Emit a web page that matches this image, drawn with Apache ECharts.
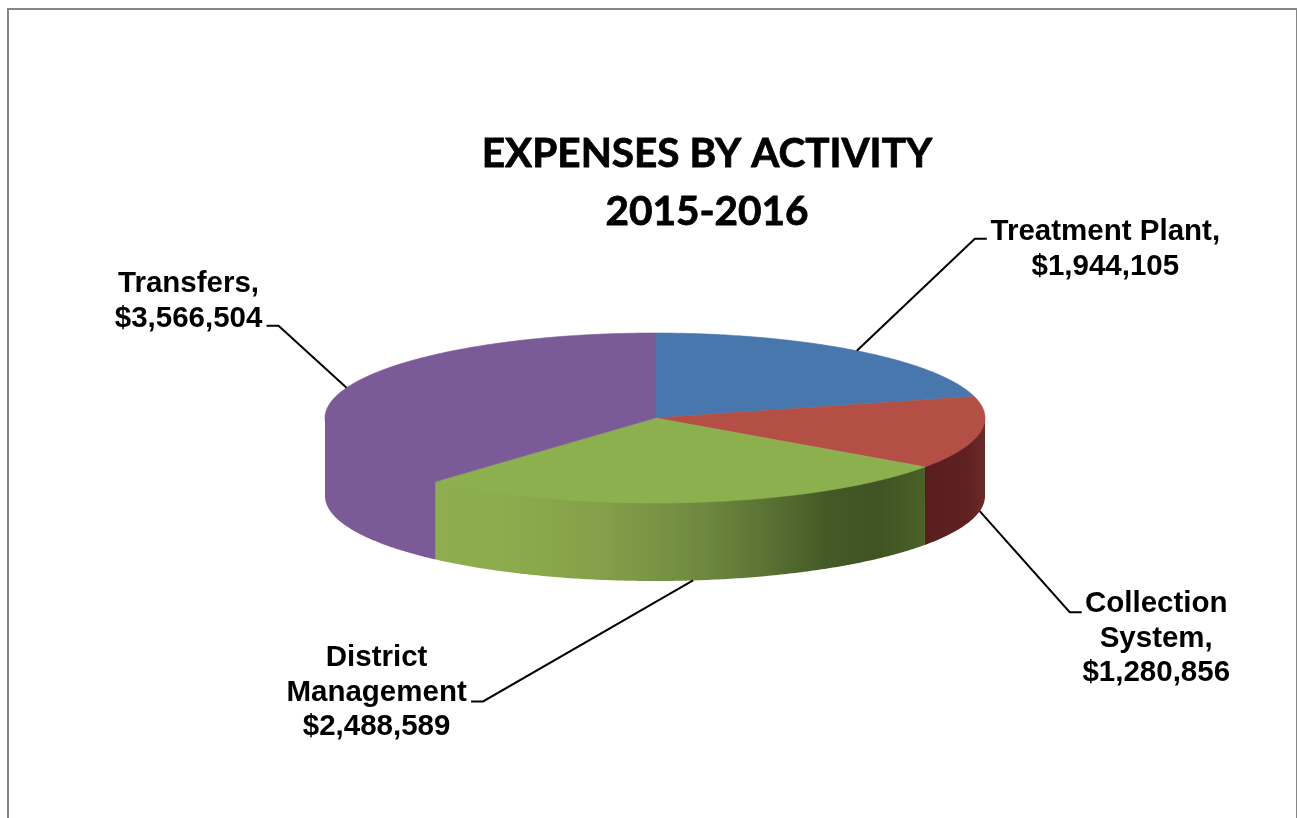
<!DOCTYPE html>
<html>
<head>
<meta charset="utf-8">
<title>Expenses by Activity 2015-2016</title>
<style>
  html, body { margin: 0; padding: 0; background: #fff; overflow: hidden; }
  #chart { width: 1297px; height: 818px; }
</style>
<script src="https://cdn.jsdelivr.net/npm/echarts@6/dist/echarts.min.js"></script>
</head>
<body>
<div id="chart"></div>
<script>
// Expense figures by activity, clockwise from twelve o'clock
const categories = ['Treatment Plant', 'Collection System', 'District Management', 'Transfers'];
const values = [1944105, 1280856, 2488589, 3566504];
const labelNames = ['Treatment Plant,', 'Collection\nSystem,', 'District\nManagement', 'Transfers,'];
const topColors = ['#4877ae', '#b44f45', '#8db04f', '#7b5b97'];

// Pie geometry: a tilted disc with an extruded rim
const disc = { cx: 655, cy: 418, rx: 330, ry: 85, depth: 78 };

// Rim fills, from left to right across each slice's visible wall
const rimStops = [
  null,
  [[0, '#5a1d1e'], [0.7, '#5f2021'], [1, '#6b2b27']],
  [[0, '#8dae4e'], [0.13, '#8dac4d'], [0.335, '#84a04a'], [0.54, '#6f8a40'], [0.66, '#5d7535'],
   [0.8, '#435a26'], [0.9, '#3f5323'], [1, '#4a6128']],
  [[0, '#7b5b97'], [1, '#7b5b97']]
];

// Leader line routing per slice: elbow and tail offsets from the anchor on the disc
const leaders = [
  { elbow: [118, -112], tail: [130, -112], onRim: false },
  { elbow: [90, 101], tail: [102, 101], onRim: true },
  { elbow: [-210, 121], tail: [-222, 121], onRim: true },
  { elbow: [-68, -62], tail: [-80, -62], onRim: false }
];

// Label box centres, relative to the tail of the leader line
const labelOffsets = [
  [118.5, 10.5], [74.5, 26.5], [-94.5, -9], [-78, -24.5]
];

const total = values.reduce((a, b) => a + b, 0);

function point(angle, drop) {
  return [
    disc.cx + disc.rx * Math.sin(angle),
    disc.cy - disc.ry * Math.cos(angle) + (drop || 0)
  ];
}

function arc(a0, a1, drop) {
  const steps = Math.max(2, Math.ceil(Math.abs(a1 - a0) / 0.01));
  const pts = [];
  for (let i = 0; i <= steps; i++) {
    pts.push(point(a0 + (a1 - a0) * i / steps, drop));
  }
  return pts;
}

function sliceSpan(index) {
  let before = 0;
  for (let i = 0; i < index; i++) before += values[i];
  const start = before / total * Math.PI * 2;
  return [start, start + values[index] / total * Math.PI * 2];
}

function money(v) {
  return '$' + v.toLocaleString('en-US');
}

// Walls are drawn first and tucked slightly under the top faces so no seam shows
function renderWall(params) {
  const i = params.dataIndex;
  const [start, end] = sliceSpan(i);
  const wallStart = Math.max(start, Math.PI / 2);
  const wallEnd = Math.min(end, Math.PI * 1.5);
  if (wallEnd <= wallStart || !rimStops[i]) {
    return null;
  }
  const stops = rimStops[i].map(s => ({ offset: s[0], color: s[1] }));
  return {
    type: 'polygon',
    shape: { points: arc(wallStart, wallEnd, -3).concat(arc(wallEnd, wallStart, disc.depth)) },
    style: { fill: new echarts.graphic.LinearGradient(0, 0, 1, 0, stops) }
  };
}

function renderFace(params, api) {
  const i = params.dataIndex;
  const value = api.value(1);
  const [start, end] = sliceSpan(i);
  const children = [];

  // Top face
  children.push({
    type: 'polygon',
    shape: { points: [[disc.cx, disc.cy]].concat(arc(start, end, 0)) },
    style: { fill: topColors[i], stroke: topColors[i], lineWidth: 0.6 }
  });

  // Leader line anchored at the slice's mid angle
  const mid = (start + end) / 2;
  const route = leaders[i];
  const anchor = point(mid, route.onRim ? disc.depth : 0);
  const elbow = [anchor[0] + route.elbow[0], anchor[1] + route.elbow[1]];
  const tail = [anchor[0] + route.tail[0], anchor[1] + route.tail[1]];
  children.push({
    type: 'polyline',
    shape: { points: [anchor, elbow, tail] },
    style: { stroke: '#000', lineWidth: 2, fill: null }
  });

  // Data label
  children.push({
    type: 'text',
    style: {
      x: tail[0] + labelOffsets[i][0],
      y: tail[1] + labelOffsets[i][1],
      text: labelNames[i] + '\n' + money(value),
      font: 'bold 29.5px "Liberation Sans", Arial, sans-serif',
      lineHeight: 34.5,
      fill: '#000',
      align: 'center',
      verticalAlign: 'middle'
    }
  });

  return { type: 'group', children };
}

const sliceData = categories.map((name, i) => [i, values[i], name]);

const chart = echarts.init(document.getElementById('chart'), null, { renderer: 'canvas' });
chart.setOption({
  animation: false,
  backgroundColor: '#ffffff',
  title: {
    text: 'EXPENSES BY ACTIVITY\n2015-2016',
    left: 702,
    top: 120,
    textAlign: 'center',
    textStyle: {
      fontFamily: 'Lato, "Open Sans", sans-serif',
      fontWeight: 'bold',
      fontSize: 40.5,
      lineHeight: 58,
      color: '#000',
      textBorderColor: '#000',
      textBorderWidth: 0.8
    }
  },
  graphic: [{
    type: 'rect',
    shape: { x: 8, y: 9, width: 1289, height: 900 },
    style: { fill: null, stroke: '#868686', lineWidth: 2 },
    silent: true
  }],
  series: [
    {
      type: 'custom',
      coordinateSystem: 'none',
      data: sliceData,
      renderItem: renderWall,
      silent: true,
      z: 1
    },
    {
      type: 'custom',
      coordinateSystem: 'none',
      data: sliceData,
      renderItem: renderFace,
      silent: true,
      z: 2
    }
  ]
});
</script>
</body>
</html>
